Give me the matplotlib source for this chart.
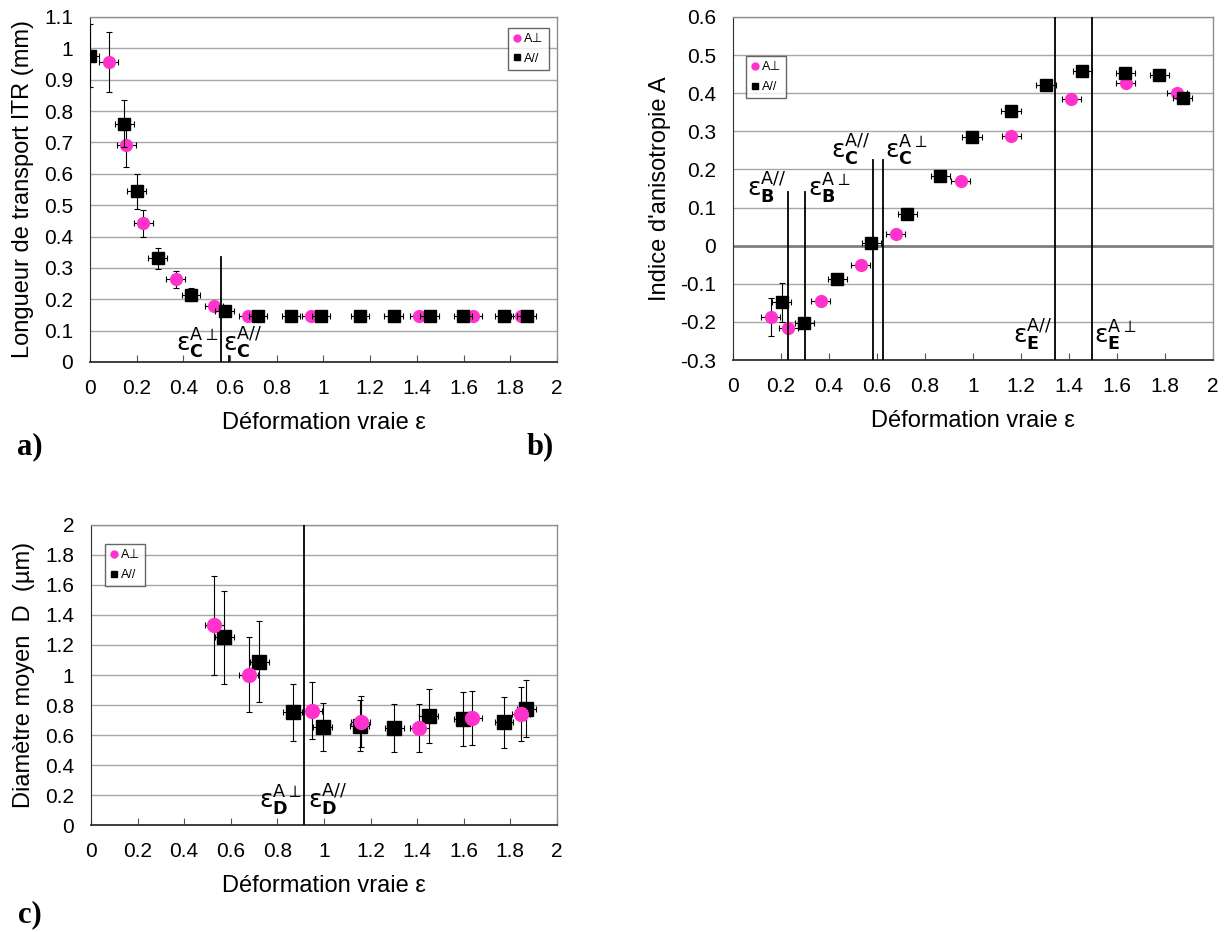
import matplotlib
matplotlib.use("Agg")
import matplotlib.pyplot as plt
import numpy as np

plt.rcParams['font.family'] = ['Liberation Sans', 'DejaVu Sans']
plt.rcParams['mathtext.fontset'] = 'dejavusans'

PINK = '#FF33CC'

# ---------------- data: panel a ----------------
a_perp_x = [0.08, 0.156, 0.228, 0.367, 0.531, 0.677, 0.947, 1.411, 1.64, 1.845]
a_perp_y = [0.956, 0.692, 0.443, 0.264, 0.179, 0.146, 0.146, 0.146, 0.146, 0.146]
a_perp_yerr = [0.096, 0.07, 0.043, 0.027, 0.012, 0.0, 0.0, 0.0, 0.0, 0.0]
a_par_x = [0.0, 0.147, 0.2, 0.29, 0.433, 0.577, 0.72, 0.861, 0.99, 1.156, 1.30, 1.455, 1.598, 1.773, 1.87]
a_par_y = [0.977, 0.76, 0.544, 0.331, 0.215, 0.163, 0.146, 0.146, 0.146, 0.146, 0.146, 0.146, 0.146, 0.146, 0.146]
a_par_yerr = [0.1, 0.075, 0.056, 0.034, 0.02, 0.01, 0, 0, 0, 0, 0, 0, 0, 0, 0]
a_xerr = 0.04

# ---------------- data: panel b ----------------
b_perp_x = [0.157, 0.23, 0.365, 0.532, 0.678, 0.948, 1.16, 1.41, 1.637, 1.85]
b_perp_y = [-0.188, -0.217, -0.145, -0.052, 0.031, 0.169, 0.288, 0.384, 0.427, 0.40]
b_perp_yerr = [0.05, 0.01, 0.0, 0.0, 0.0, 0.0, 0.0, 0.0, 0.0, 0.0]
b_par_x = [0.202, 0.297, 0.435, 0.577, 0.726, 0.864, 0.996, 1.158, 1.304, 1.455, 1.635, 1.777, 1.873]
b_par_y = [-0.149, -0.204, -0.088, 0.007, 0.083, 0.183, 0.286, 0.353, 0.421, 0.458, 0.453, 0.448, 0.387]
b_par_yerr = [0.05, 0.0, 0.0, 0.0, 0.0, 0.0, 0.0, 0.0, 0.0, 0.0, 0.0, 0.0, 0.0]
b_xerr = 0.04

# ---------------- data: panel c ----------------
c_perp_x = [0.529, 0.677, 0.95, 1.158, 1.409, 1.637, 1.845]
c_perp_y = [1.331, 1.003, 0.763, 0.687, 0.644, 0.713, 0.74]
c_perp_yerr = [0.33, 0.25, 0.19, 0.17, 0.16, 0.18, 0.18]
c_par_x = [0.573, 0.722, 0.866, 0.994, 1.153, 1.302, 1.449, 1.597, 1.772, 1.868]
c_par_y = [1.253, 1.088, 0.751, 0.655, 0.662, 0.644, 0.725, 0.707, 0.685, 0.774]
c_par_yerr = [0.31, 0.27, 0.19, 0.16, 0.17, 0.16, 0.18, 0.18, 0.17, 0.19]
c_xerr = 0.04

x_ticks = [0, 0.2, 0.4, 0.6, 0.8, 1.0, 1.2, 1.4, 1.6, 1.8, 2.0]
a_yticks = [round(0.1 * i, 1) for i in range(12)]
b_yticks = [round(-0.3 + 0.1 * i, 1) for i in range(10)]
c_yticks = [round(0.2 * i, 1) for i in range(11)]

LBL_PERP = 'A\u22a5'
LBL_PAR = 'A//'


def fmt(v):
    s = f"{v:.1f}"
    if s.endswith('.0'):
        s = s[:-2]
    if s == '-0':
        s = '0'
    return s


def style_axes(ax, yticks, ylabel):
    ax.set_xlim(0, 2)
    ax.set_ylim(yticks[0], yticks[-1])
    ax.set_xticks(x_ticks)
    ax.set_xticklabels([fmt(v) for v in x_ticks], fontsize=15)
    ax.set_yticks(yticks)
    ax.set_yticklabels([fmt(v) for v in yticks], fontsize=15)
    ax.tick_params(axis='x', direction='in', length=5, color='#555555', pad=12)
    ax.tick_params(axis='y', direction='in', length=0, pad=12)
    ax.grid(axis='y', color='#a6a6a6', lw=1.0)
    ax.set_axisbelow(True)
    for s in ['top', 'right']:
        ax.spines[s].set_color('#909090')
        ax.spines[s].set_linewidth(1.0)
    ax.spines['left'].set_color('#303030')
    ax.spines['bottom'].set_color('#303030')
    ax.spines['bottom'].set_linewidth(1.3)
    ax.set_xlabel('Déformation vraie ε', fontsize=17, labelpad=10)
    ax.set_ylabel(ylabel, fontsize=17, labelpad=7)


def plot_series(ax, x, y, yerr, xerr, marker, color, ms, z, label):
    ax.errorbar(x, y, yerr=yerr, xerr=xerr, fmt='none', ecolor='black',
                elinewidth=0.8, capsize=2.5, capthick=0.8, zorder=z)
    ax.plot(x, y, linestyle='none', marker=marker, color=color, ms=ms,
            mec=color, zorder=z + 0.5, label=label)


def legend(ax, loc, anchor):
    h1, = ax.plot([], [], 'o', color=PINK, ms=5, label=LBL_PERP)
    h2, = ax.plot([], [], 's', color='black', ms=5, label=LBL_PAR)
    lg = ax.legend(handles=[h1, h2], loc=loc, bbox_to_anchor=anchor,
                   fontsize=9, frameon=True, fancybox=False, handlelength=0.6,
                   handletextpad=0.3, borderpad=0.4, labelspacing=0.6,
                   borderaxespad=0.0)
    lg.get_frame().set_edgecolor('#404040')
    lg.get_frame().set_linewidth(1.0)


def eps_label(ax, x, y, sub, sup, ha):
    ax.text(x, y, r'$\mathrm{ε}_{\mathbf{%s}}^{\mathrm{%s}}$' % (sub, sup),
            fontsize=18, ha=ha, va='bottom', zorder=6)


fig = plt.figure(figsize=(12.26, 9.32), dpi=100)

# ---------------- panel a ----------------
ax_a = fig.add_axes([0.0734, 0.6116, 0.3809, 0.3702])
style_axes(ax_a, a_yticks, 'Longueur de transport lTR (mm)')
plot_series(ax_a, a_perp_x, a_perp_y, a_perp_yerr, a_xerr, 'o', PINK, 8.5, 3, LBL_PERP)
plot_series(ax_a, a_par_x, a_par_y, a_par_yerr, a_xerr, 's', 'black', 9, 4, LBL_PAR)
ax_a.plot([0.559, 0.559], [0, 0.334], color='black', lw=1.3, zorder=5)
ax_a.plot([0.595, 0.595], [0, 0.02], color='black', lw=1.3, zorder=5)
eps_label(ax_a, 0.549, 0.003, 'C', r'A\perp', 'right')
eps_label(ax_a, 0.571, 0.003, 'C', 'A//', 'left')
legend(ax_a, 'upper right', (0.982, 0.968))

# ---------------- panel b ----------------
ax_b = fig.add_axes([0.5979, 0.6137, 0.3915, 0.3681])
style_axes(ax_b, b_yticks, "Indice d'anisotropie A")
ax_b.axhline(0, color='#808080', lw=2.0, zorder=1)
plot_series(ax_b, b_perp_x, b_perp_y, b_perp_yerr, b_xerr, 'o', PINK, 8.5, 3, LBL_PERP)
plot_series(ax_b, b_par_x, b_par_y, b_par_yerr, b_xerr, 's', 'black', 9, 4, LBL_PAR)
for xv, ytop in [(0.231, 0.14), (0.30, 0.14), (0.582, 0.225), (0.625, 0.225), (1.343, 0.6), (1.497, 0.6)]:
    ax_b.plot([xv, xv], [-0.3, ytop], color='black', lw=1.3, zorder=5)
eps_label(ax_b, 0.222, 0.103, 'B', 'A//', 'right')
eps_label(ax_b, 0.312, 0.103, 'B', r'A\perp', 'left')
eps_label(ax_b, 0.573, 0.205, 'C', 'A//', 'right')
eps_label(ax_b, 0.634, 0.205, 'C', r'A\perp', 'left')
eps_label(ax_b, 1.330, -0.282, 'E', 'A//', 'right')
eps_label(ax_b, 1.505, -0.282, 'E', r'A\perp', 'left')
legend(ax_b, 'upper left', (0.027, 0.885))

# ---------------- panel c ----------------
ax_c = fig.add_axes([0.0742, 0.1148, 0.3801, 0.3219])
style_axes(ax_c, c_yticks, 'Diamètre moyen  D  (µm)')
plot_series(ax_c, c_par_x, c_par_y, c_par_yerr, c_xerr, 's', 'black', 10, 3, LBL_PAR)
plot_series(ax_c, c_perp_x, c_perp_y, c_perp_yerr, c_xerr, 'o', PINK, 10, 4, LBL_PERP)
ax_c.plot([0.914, 0.914], [0, 2], color='black', lw=1.3, zorder=5)
eps_label(ax_c, 0.902, 0.045, 'D', r'A\perp', 'right')
eps_label(ax_c, 0.930, 0.045, 'D', 'A//', 'left')
legend(ax_c, 'upper left', (0.03, 0.935))

# panel letters
for (xp, yp, t) in [(30, 447, 'a)'), (540, 447, 'b)'), (30, 915, 'c)')]:
    fig.text(xp / 1226, 1 - yp / 932, t, fontsize=22, fontweight='bold',
             family='Liberation Serif', ha='center', va='center')

fig.savefig('out.png', dpi=100)
